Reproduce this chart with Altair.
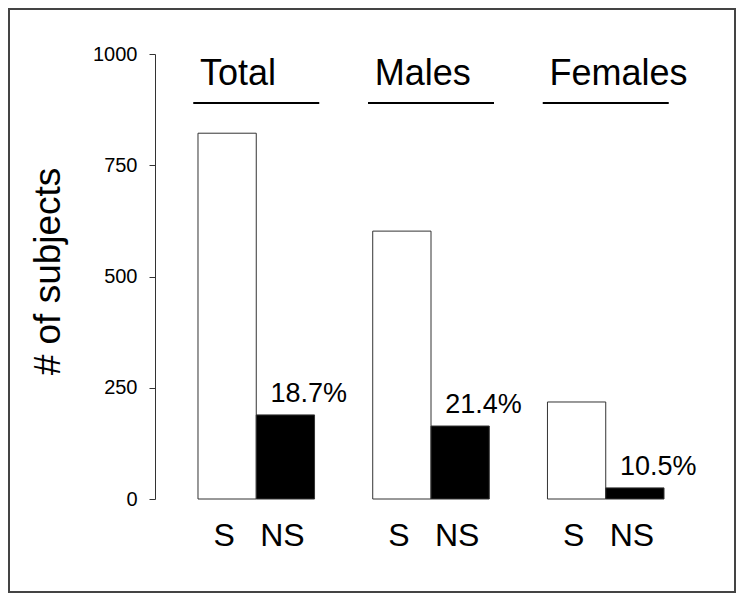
import altair as alt
import pandas as pd

groups = ["Total", "Males", "Females"]
types = ["S", "NS"]
s_values = [822, 602, 218]
ns_values = [189, 164, 25]
pct_labels = ["18.7%", "21.4%", "10.5%"]
y_ticks = [0, 250, 500, 750, 1000]
y_title = "# of subjects"

FONT = "Liberation Sans"

rows = []
for g, s, ns in zip(groups, s_values, ns_values):
    rows.append({"group": g, "type": "S", "value": s})
    rows.append({"group": g, "type": "NS", "value": ns})
bars_df = pd.DataFrame(rows)
pct_df = pd.DataFrame({"group": groups, "type": ["NS"] * 3, "value": ns_values, "label": pct_labels})
grp_df = pd.DataFrame({"group": groups})
border_df = pd.DataFrame({"k": [0]})

W, H = 552, 445
PAD_L, PAD_T, PAD_R, PAD_B = 147, 46, 29, 94

xscale = alt.Scale(paddingInner=0.333, paddingOuter=0.246)
x_enc = alt.X("group:N", sort=groups, scale=xscale, axis=None)
xo_enc = alt.XOffset("type:N", sort=types, scale=alt.Scale(paddingInner=0, paddingOuter=0))

bars = alt.Chart(bars_df).mark_bar(stroke="#333", strokeWidth=1).encode(
    x=x_enc,
    xOffset=xo_enc,
    y=alt.Y("value:Q", scale=alt.Scale(domain=[0, 1000], nice=False),
            axis=alt.Axis(values=y_ticks, format="d", title=y_title, grid=False,
                          domainColor="#333", tickColor="#333", tickSize=6,
                          labelFont=FONT, labelFontSize=20, labelColor="black",
                          labelPadding=12,
                          titleFont=FONT, titleFontSize=37, titleFontWeight="normal",
                          titleColor="black", titleAngle=270, titleX=-96, titleY=217,
                          titleAlign="center", titleBaseline="alphabetic")),
    fill=alt.Fill("type:N", scale=alt.Scale(domain=types, range=["white", "black"]), legend=None),
)

pct = alt.Chart(pct_df).mark_text(font=FONT, fontSize=27, align="left",
                                  baseline="alphabetic", dx=-15, dy=-13, color="black").encode(
    x=x_enc, xOffset=xo_enc, y="value:Q", text="label:N"
)

sn = alt.Chart(bars_df).mark_text(font=FONT, fontSize=32, align="center",
                                  baseline="alphabetic", dx=-3, color="black").encode(
    x=x_enc, xOffset=xo_enc, y=alt.value(492), text="type:N"
)

titles = alt.Chart(grp_df).mark_text(font=FONT, fontSize=36, align="left",
                                     baseline="alphabetic", dx=2, color="black").encode(
    x=alt.X("group:N", sort=groups, scale=xscale, axis=None, bandPosition=0),
    y=alt.value(31), text="group:N"
)

underlines = alt.Chart(grp_df).mark_tick(orient="horizontal", size=126, thickness=2,
                                         color="black", opacity=1).encode(
    x=x_enc, y=alt.value(49)
)

border = alt.Chart(border_df).mark_rect(fill=None, stroke="#444", strokeWidth=2).encode(
    x=alt.value(-PAD_L + 1), x2=alt.value(W + PAD_R - 1),
    y=alt.value(-PAD_T + 1), y2=alt.value(H + PAD_B - 1)
)

chart = alt.layer(border, bars, pct, sn, titles, underlines).properties(
    width=W, height=H,
    autosize="none",
    background="white",
    padding={"left": PAD_L, "top": PAD_T, "right": PAD_R, "bottom": PAD_B},
).configure_view(stroke=None)

chart.save("out.html", embed_options={"renderer": "svg", "actions": False})
